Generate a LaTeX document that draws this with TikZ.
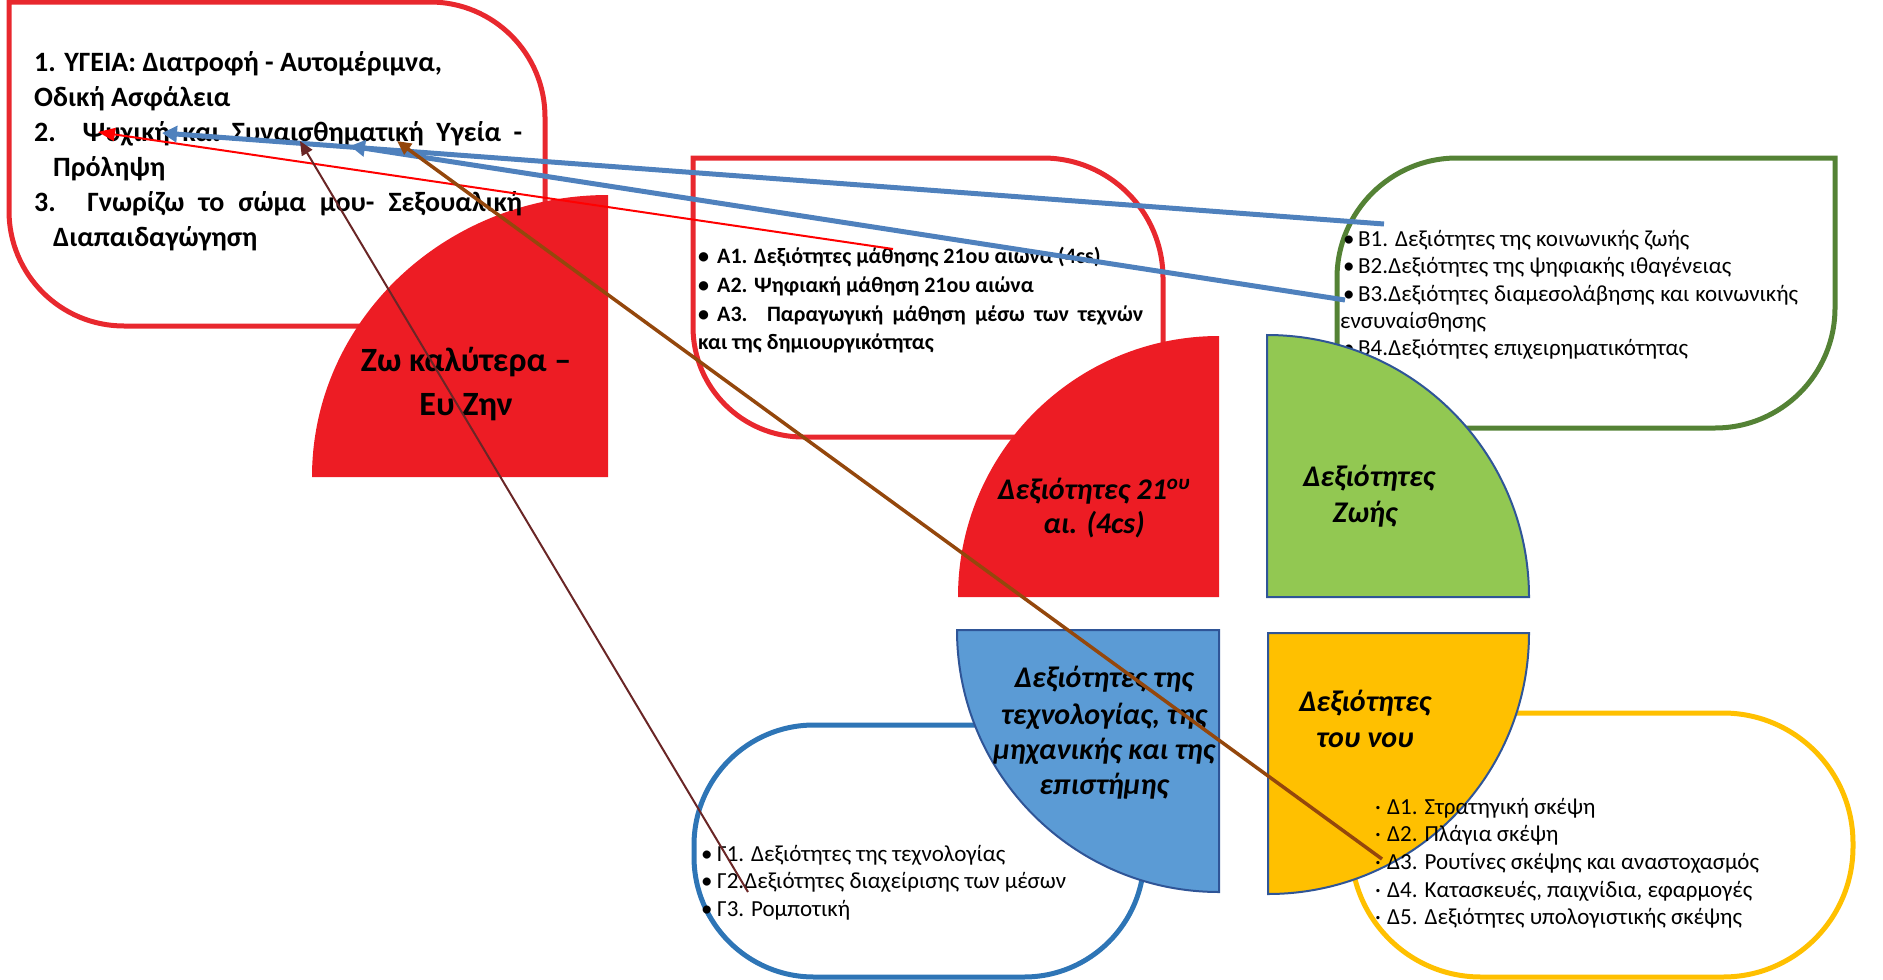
\documentclass[tikz,border=0pt]{standalone}
\usepackage{fontspec}
\setmainfont{Carlito}
\usetikzlibrary{arrows.meta}

\definecolor{boxred}{HTML}{E8282E}
\definecolor{fillred}{HTML}{ED1C24}
\definecolor{arrowred}{HTML}{FF0000}
\definecolor{boxgreen}{HTML}{548235}
\definecolor{fillgreen}{HTML}{92C852}
\definecolor{fillblue}{HTML}{5B9BD5}
\definecolor{boxblue}{HTML}{2E75B6}
\definecolor{fillyellow}{HTML}{FFC000}
\definecolor{qline}{HTML}{2F5597}
\definecolor{arrowblue}{HTML}{4F81BD}
\definecolor{arrowmaroon}{HTML}{6A2626}
\definecolor{arrowbrown}{HTML}{94470C}

\newcommand{\spreadline}[2]{\makebox[#1][s]{#2}}
\newcommand{\lbul}[1]{\makebox[#1][l]{\textbullet}}
\newcommand{\dbul}{\makebox[12pt][l]{\textperiodcentered}}

\begin{document}
\begin{tikzpicture}[x=1pt,y=-1pt,
  frame/.style={line width=5pt},
  quarter/.style={draw=qline,line width=2pt},
  hitem/.style={anchor=base west,inner sep=0pt,font=\fontsize{28}{32}\selectfont\bfseries},
  aitem/.style={anchor=base west,inner sep=0pt,font=\fontsize{22}{26}\selectfont\bfseries},
  litem/.style={anchor=base west,inner sep=0pt,font=\fontsize{23}{27}\selectfont},
  qtext/.style={anchor=base,inner sep=0pt,font=\fontsize{30}{34}\selectfont\bfseries\itshape},
  ztext/.style={anchor=base,inner sep=0pt,font=\fontsize{34}{38}\selectfont\bfseries}]
\useasboundingbox (0,0) rectangle (1883,980);

\draw[frame,draw=boxred] (9,2) -- (430,2) arc[start angle=270,end angle=360,radius=115]
  -- (545,326) -- (124,326) arc[start angle=90,end angle=180,radius=115] -- cycle;
\draw[frame,draw=boxred] (693,158) -- (1043,158) arc[start angle=270,end angle=360,radius=120]
  -- (1163,437) -- (803,437) arc[start angle=90,end angle=180,radius=110] -- cycle;
\draw[frame,draw=boxgreen] (1337,278) arc[start angle=180,end angle=270,radius=120]
  -- (1835,158) -- (1835,308) arc[start angle=0,end angle=90,radius=120] -- (1337,428) -- cycle;
\draw[frame,draw=boxblue,rounded corners=120] (694,725) rectangle (1144,977);
\draw[frame,draw=fillyellow,rounded corners=130] (1351,713) rectangle (1853,977);

\node[aitem] (a1) at (698,263) {\lbul{19pt}Α1. Δεξιότητες μάθησης 21ου αιωνα (4cs)};
\node[aitem] (a2) at (698,292) {\lbul{19pt}Α2. Ψηφιακή μάθηση 21ου αιώνα};
\node[aitem] (a3) at (698,321) {\lbul{19pt}\spreadline{426pt}{Α3. Παραγωγική μάθηση μέσω των τεχνών}};
\node[aitem] (a4) at (698,349) {και της δημιουργικότητας};

\node[litem] (b1) at (1343,246) {\lbul{15pt}Β1. Δεξιότητες της κοινωνικής ζωής};
\node[litem] (b2) at (1343,273) {\lbul{15pt}Β2.Δεξιότητες της ψηφιακής ιθαγένειας};
\node[litem] (b3) at (1343,301) {\lbul{15pt}\spreadline{440pt}{Β3.Δεξιότητες διαμεσολάβησης και κοινωνικής}};
\node[litem] (b4) at (1340,328) {ενσυναίσθησης};
\node[litem] (b5) at (1343,355) {\lbul{15pt}Β4.Δεξιότητες επιχειρηματικότητας};

\node[litem] (g1) at (701,861) {\lbul{16pt}Γ1. Δεξιότητες της τεχνολογίας};
\node[litem] (g2) at (701,888) {\lbul{16pt}Γ2.Δεξιότητες διαχείρισης των μέσων};
\node[litem] (g3) at (701,916) {\lbul{16pt}Γ3. Ρομποτική};

\fill[fillred] (608,477) -- (312,477) arc[start angle=180,end angle=270,x radius=296,y radius=282] -- cycle;
\fill[fillred] (1219,597) -- (958,597) arc[start angle=180,end angle=270,radius=261] -- cycle;
\filldraw[quarter,fill=fillgreen] (1267,597) -- (1267,335) arc[start angle=270,end angle=360,radius=262] -- cycle;
\filldraw[quarter,fill=fillblue] (1219,630) -- (1219,892) arc[start angle=90,end angle=180,radius=262] -- cycle;
\filldraw[quarter,fill=fillyellow] (1268,633) -- (1529,633) arc[start angle=0,end angle=90,radius=261] -- cycle;

\node[hitem] (h1) at (34,71) {1. ΥΓΕΙΑ: Διατροφή - Αυτομέριμνα,};
\node[hitem] (h2) at (34,106) {Οδική Ασφάλεια};
\node[hitem] (h3) at (34,141) {\spreadline{488pt}{2. Ψυχική και Συναισθηματική Υγεία -}};
\node[hitem] (h4) at (53,176) {Πρόληψη};
\node[hitem] (h5) at (34,211) {\spreadline{488pt}{3. Γνωρίζω το σώμα μου- Σεξουαλική}};
\node[hitem] (h6) at (53,246) {Διαπαιδαγώγηση};

\node[ztext] (z1) at (466,371) {Ζω καλύτερα –};
\node[ztext] (z2) at (466,415) {Ευ Ζην};
\node[qtext] (r1) at (1094,499) {Δεξιότητες 21\textsuperscript{ου}};
\node[qtext] (r2) at (1094,533) {αι. (4cs)};
\node[qtext] (s1) at (1369,486) {Δεξιότητες};
\node[qtext] (s2) at (1365,522) {Ζωής};
\node[qtext] (t1) at (1104,687) {Δεξιότητες της};
\node[qtext] (t2) at (1104,724) {τεχνολογίας, της};
\node[qtext] (t3) at (1104,759) {μηχανικής και της};
\node[qtext] (t4) at (1104,794) {επιστήμης};
\node[qtext] (n1) at (1365,711) {Δεξιότητες};
\node[qtext] (n2) at (1365,747) {του νου};

\node[litem] (d1) at (1375,814) {\dbul Δ1. Στρατηγική σκέψη};
\node[litem] (d2) at (1375,841) {\dbul Δ2. Πλάγια σκέψη};
\node[litem] (d3) at (1375,869) {\dbul Δ3. Ρουτίνες σκέψης και αναστοχασμός};
\node[litem] (d4) at (1375,897) {\dbul Δ4. Κατασκευές, παιχνίδια, εφαρμογές};
\node[litem] (d5) at (1375,924) {\dbul Δ5. Δεξιότητες υπολογιστικής σκέψης};

\coordinate (redtail) at (893,249);
\coordinate (redtip) at (98,132);
\coordinate (bluetail1) at (1384,224);
\coordinate (bluetip1) at (162,133);
\coordinate (bluetail2) at (1345,300);
\coordinate (bluetip2) at (350,146);
\coordinate (maroontail) at (748,892);
\coordinate (marootip) at (300,141);
\coordinate (browntail) at (1382,859);
\coordinate (browntip) at (397,141);

\draw[line width=2pt,arrowred,-{Triangle[length=17pt,width=13pt]}] (redtail) -- (redtip);
\draw[line width=5pt,arrowblue,-{Triangle[length=15pt,width=16pt]}] (bluetail1) -- (bluetip1);
\draw[line width=5pt,arrowblue,-{Triangle[length=15pt,width=16pt]}] (bluetail2) -- (bluetip2);
\draw[line width=2pt,arrowmaroon,-{Triangle[length=14pt,width=12pt]}] (maroontail) -- (marootip);
\draw[line width=3.5pt,arrowbrown,-{Triangle[length=14pt,width=13pt]}] (browntail) -- (browntip);
\end{tikzpicture}
\end{document}
